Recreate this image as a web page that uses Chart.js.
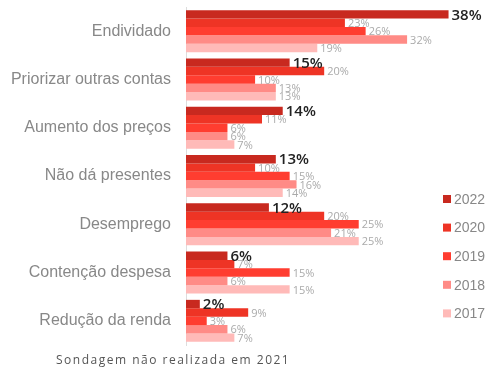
<!DOCTYPE html>
<html>
<head>
<meta charset="utf-8">
<script src="https://cdn.jsdelivr.net/npm/chart.js@4"></script>
<style>
  body { margin:0; background:#fff; }
  #wrap { position:relative; width:500px; height:370px; }
  #note { position:absolute; left:56px; top:351px; font:12px "Open Sans", sans-serif; letter-spacing:1.5px; color:#555; white-space:nowrap; }
</style>
</head>
<body>
<div id="wrap">
  <canvas id="chart" width="500" height="370"></canvas>
  <div id="note">Sondagem não realizada em 2021</div>
</div>
<script>
// categories and values (%) per survey year
var categories = ["Endividado", "Priorizar outras contas", "Aumento dos preços", "Não dá presentes", "Desemprego", "Contenção despesa", "Redução da renda"];
var years = ["2022", "2020", "2019", "2018", "2017"];

var v2022 = [38, 15, 14, 13, 12, 6, 2];
var v2020 = [23, 20, 11, 10, 20, 7, 9];
var v2019 = [26, 10, 6, 15, 25, 15, 3];
var v2018 = [32, 13, 6, 16, 21, 6, 6];
var v2017 = [19, 13, 7, 14, 25, 15, 7];

var colors = ["#c8291f", "#ee3425", "#ff3d30", "#ff8b86", "#ffbab8"];
var series = [v2022, v2020, v2019, v2018, v2017];

var datasets = [];
for (var i = 0; i < years.length; i++) {
    datasets.push({
        label: years[i],
        data: series[i],
        backgroundColor: colors[i],
        borderWidth: 0,
        barPercentage: 1,
        categoryPercentage: 0.87
    });
}

// value labels next to bar ends
var valueLabels = {
    id: "valueLabels",
    afterDatasetsDraw: function(chart) {
        var ctx = chart.ctx;
        ctx.save();
        ctx.textBaseline = "middle";
        ctx.textAlign = "left";
        chart.data.datasets.forEach(function(ds, di) {
            var meta = chart.getDatasetMeta(di);
            meta.data.forEach(function(bar, j) {
                if (di === 0) {
                    ctx.font = "600 15px 'Open Sans', sans-serif";
                    ctx.fillStyle = "#222";
                    ctx.fillText(ds.data[j] + "%", bar.x + 3, bar.y + 1);
                } else {
                    ctx.font = "11px 'Open Sans', sans-serif";
                    ctx.fillStyle = "#aaa";
                    ctx.fillText(ds.data[j] + "%", bar.x + 3, bar.y + 1);
                }
            });
        });
        ctx.restore();
    }
};

// legend in the lower right corner
var sideLegend = {
    id: "sideLegend",
    afterDraw: function(chart) {
        var ctx = chart.ctx;
        ctx.save();
        ctx.font = "14px 'Liberation Sans', Arial, sans-serif";
        ctx.textBaseline = "middle";
        ctx.textAlign = "left";
        chart.data.datasets.forEach(function(ds, i) {
            var y = 199 + i * 28.6;
            ctx.fillStyle = ds.backgroundColor;
            ctx.fillRect(443, y - 4, 8, 8);
            ctx.fillStyle = "#888";
            ctx.fillText(ds.label, 454, y + 1);
        });
        ctx.restore();
    }
};

new Chart(document.getElementById("chart"), {
    type: "bar",
    data: {
        labels: categories,
        datasets: datasets
    },
    options: {
        indexAxis: "y",
        responsive: false,
        animation: false,
        layout: {
            padding: {top: 7, right: 10, bottom: 25, left: 0}
        },
        scales: {
            x: {
                display: false,
                min: 0,
                max: 44
            },
            y: {
                grid: {display: false, drawTicks: false},
                border: {color: "#dddddd"},
                ticks: {
                    color: "#888",
                    padding: 15,
                    font: {size: 16, family: "'Liberation Sans', Arial, sans-serif"}
                },
                afterFit: function(scale) {
                    scale.width = 186;
                    scale.paddingTop = 0;
                    scale.paddingBottom = 0;
                }
            }
        },
        plugins: {
            legend: {display: false},
            tooltip: {enabled: false}
        }
    },
    plugins: [valueLabels, sideLegend]
});
</script>
</body>
</html>
